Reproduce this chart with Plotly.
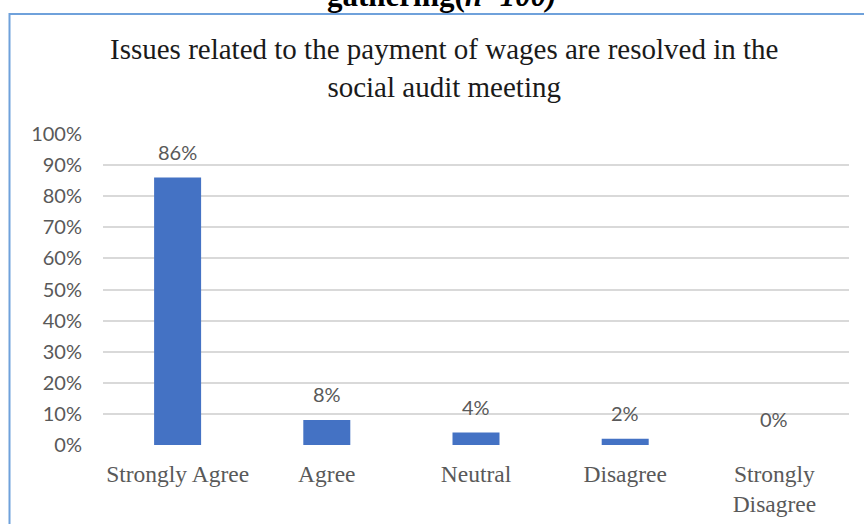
import plotly.graph_objects as go

# Survey responses
categories = ["Strongly Agree", "Agree", "Neutral", "Disagree", "Strongly<br>Disagree"]
shares = [86, 8, 4, 2, 0]
value_labels = ["86%", "8%", "4%", "2%", "0%"]
y_ticks = [0, 10, 20, 30, 40, 50, 60, 70, 80, 90, 100]
y_tick_labels = [f"{v}%" for v in y_ticks]

chart_title = "Issues related to the payment of wages are resolved in the<br>social audit meeting"
caption_tail = "<b>gathering(<i>n=100)</i></b>"

W, H = 864, 524
L, R, T, B = 103, 15, 134, 79
plot_w = W - L - R
plot_h = H - T - B


def px_x(x):
    return (x - L) / plot_w


def px_y(y):
    return (H - B - y) / plot_h


fig = go.Figure()
fig.add_trace(go.Bar(
    x=categories,
    y=shares,
    marker=dict(color="#4472C4", line=dict(width=0)),
    hoverinfo="skip",
))

annotations = []
for cat, val, lab in zip(categories, shares, value_labels):
    annotations.append(dict(
        x=cat, y=val, xref="x", yref="y", text=lab, showarrow=False,
        yanchor="bottom", yshift=12,
        font=dict(family="Lato, Open Sans, sans-serif", size=20, color="#595959"),
    ))

# chart title
annotations.append(dict(
    x=px_x(444), y=px_y(68), xref="paper", yref="paper", text=chart_title,
    showarrow=False, xanchor="center", yanchor="middle",
    font=dict(family="Liberation Serif, Times New Roman, serif", size=29, color="#1a1a1a"),
))
# caption fragment running off the top edge
annotations.append(dict(
    x=px_x(442), y=px_y(15), xref="paper", yref="paper", text=caption_tail,
    showarrow=False, xanchor="center", yanchor="bottom",
    font=dict(family="Liberation Serif, Times New Roman, serif", size=31, color="#000000"),
))

fig.update_layout(
    width=W, height=H,
    margin=dict(l=L, r=R, t=T, b=B, autoexpand=False),
    paper_bgcolor="white", plot_bgcolor="white",
    showlegend=False,
    bargap=0.685,
    annotations=annotations,
    shapes=[dict(
        type="rect", xref="paper", yref="paper",
        x0=px_x(9.5), x1=px_x(W + 10), y0=px_y(H + 10), y1=px_y(14),
        line=dict(color="#6FA1DB", width=2), fillcolor="rgba(0,0,0,0)", layer="below",
    )],
    xaxis=dict(
        showgrid=False, zeroline=False, showline=False, ticks="",
        automargin=False,
        ticklabelstandoff=12,
        tickfont=dict(family="Liberation Serif, Times New Roman, serif", size=23.5, color="#595959"),
        fixedrange=True,
    ),
    yaxis=dict(
        range=[0, 100], tickvals=y_ticks, ticktext=y_tick_labels,
        showgrid=True, gridcolor="#D9D9D9", gridwidth=1.5,
        zeroline=False, showline=False, ticks="",
        automargin=False,
        ticklabelstandoff=20,
        tickfont=dict(family="Lato, Open Sans, sans-serif", size=20, color="#595959"),
        fixedrange=True,
    ),
)

fig.write_html("out.html")
